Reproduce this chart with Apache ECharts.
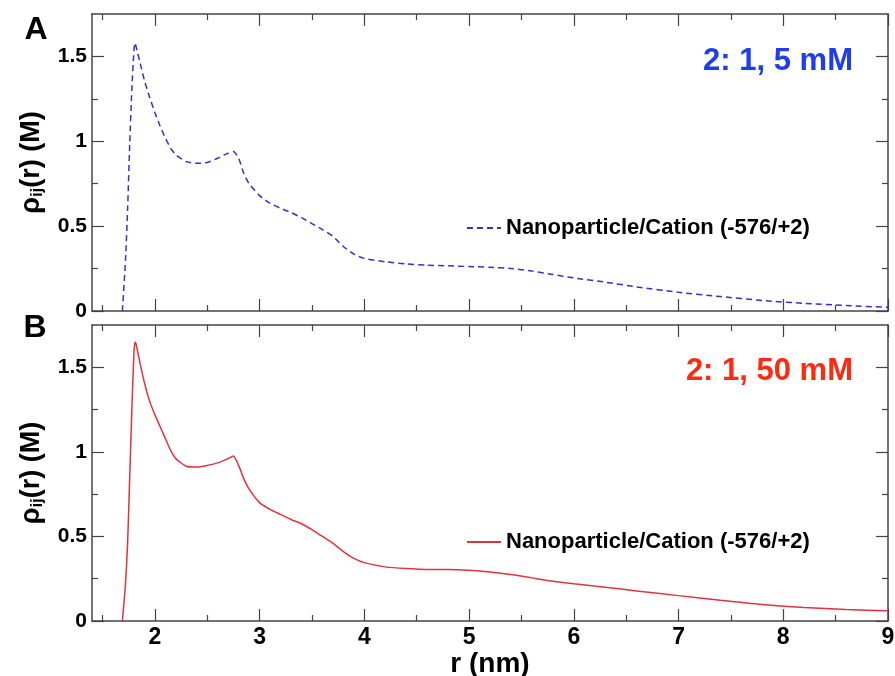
<!DOCTYPE html>
<html>
<head>
<meta charset="utf-8">
<title>Nanoparticle/Cation density</title>
<script src="https://cdn.jsdelivr.net/npm/echarts@6/dist/echarts.min.js"></script>
<style>
  html, body { margin: 0; padding: 0; background: #fff; }
  #chart { width: 895px; height: 676px; }
</style>
</head>
<body>
<div id="chart"></div>
<script>
// r (nm) sample points, shared by both panels
const rValues = [1.69, 1.72, 1.74, 1.76, 1.78, 1.80, 1.81, 1.82, 1.86, 1.90, 1.95, 2.0, 2.05, 2.1, 2.15, 2.2,
  2.3, 2.4, 2.5, 2.6, 2.7, 2.75, 2.8, 2.85, 2.9, 3.0, 3.1, 3.2, 3.3, 3.4, 3.5, 3.6, 3.7, 3.8, 3.9, 4.0,
  4.2, 4.4, 4.6, 4.8, 5.0, 5.2, 5.4, 5.6, 5.8, 6.0, 6.3, 6.6, 7.0, 7.4, 7.8, 8.2, 8.6, 9.0];
// panel A: 2:1, 5 mM
const density5mM = [0, 0.30, 0.60, 0.98, 1.30, 1.53, 1.58, 1.56, 1.46, 1.36, 1.26, 1.17, 1.09, 1.02, 0.96, 0.92,
  0.88, 0.87, 0.875, 0.90, 0.93, 0.94, 0.90, 0.81, 0.75, 0.68, 0.635, 0.605, 0.58, 0.55, 0.515, 0.48, 0.44, 0.38, 0.335, 0.31,
  0.29, 0.277, 0.27, 0.266, 0.262, 0.258, 0.25, 0.235, 0.215, 0.195, 0.17, 0.142, 0.11, 0.085, 0.062, 0.045, 0.032, 0.022];
// panel B: 2:1, 50 mM
const density50mM = [0, 0.22, 0.46, 0.85, 1.24, 1.58, 1.65, 1.64, 1.52, 1.41, 1.30, 1.22, 1.15, 1.08, 1.01, 0.96,
  0.915, 0.91, 0.92, 0.935, 0.96, 0.975, 0.92, 0.84, 0.78, 0.70, 0.66, 0.63, 0.60, 0.575, 0.54, 0.50, 0.46, 0.41, 0.37, 0.345,
  0.32, 0.31, 0.305, 0.305, 0.30, 0.29, 0.275, 0.255, 0.235, 0.22, 0.20, 0.178, 0.15, 0.122, 0.097, 0.08, 0.068, 0.06];

const xMajor = [2, 3, 4, 5, 6, 7, 8, 9];
const xMinor = [1.5, 2.5, 3.5, 4.5, 5.5, 6.5, 7.5, 8.5];
const yMajor = [0, 0.5, 1, 1.5];
const yMinor = [0.25, 0.75, 1.25];
const yLabels = ['0', '0.5', '1', '1.5'];

const legendLabel = 'Nanoparticle/Cation (-576/+2)';
const panelNotes = ['2: 1, 5 mM', '2: 1, 50 mM'];

const axisColor = '#444';
const font = '"Liberation Sans", Arial, sans-serif';
const narrow = '"Liberation Sans Narrow", "Liberation Sans", Arial, sans-serif';

const chart = echarts.init(document.getElementById('chart'));

function xAx(grid, pos, ticks, len, major, labels) {
  return {
    type: 'value', gridIndex: grid, position: pos, min: 1.4, max: 9,
    axisLine: { show: major, onZero: false, lineStyle: { color: axisColor, width: 1.5 } },
    axisTick: { show: true, inside: true, length: len, customValues: ticks, lineStyle: { color: axisColor, width: 1.2 } },
    axisLabel: labels ? {
      show: true, customValues: xMajor, margin: 5,
      fontSize: 23, fontWeight: 'bold', color: '#000', fontFamily: narrow
    } : { show: false },
    splitLine: { show: false }
  };
}

function yAx(grid, pos, ticks, len, major, labels) {
  return {
    type: 'value', gridIndex: grid, position: pos, min: 0, max: 1.75,
    axisLine: { show: major, onZero: false, lineStyle: { color: axisColor, width: 1.5 } },
    axisTick: { show: true, inside: true, length: len, customValues: ticks, lineStyle: { color: axisColor, width: 1.2 } },
    axisLabel: labels ? {
      show: true, customValues: yMajor, margin: 5,
      fontSize: 21, fontWeight: 'bold', color: '#000', fontFamily: font,
      formatter: (v) => yLabels[yMajor.indexOf(v)] || String(v)
    } : { show: false },
    splitLine: { show: false },
    name: labels ? '{a|ρ}{s|ij}{a|(r) (M)}' : '',
    nameLocation: 'middle', nameGap: 46, nameRotate: 90,
    nameTextStyle: {
      rich: {
        a: { fontSize: 27, fontWeight: 'bold', color: '#000', fontFamily: font },
        s: { fontSize: 17, fontWeight: 'bold', color: '#000', fontFamily: font, padding: [11, 0, 0, 0] }
      }
    }
  };
}

const xAxes = [];
const yAxes = [];
[0, 1].forEach((g) => {
  xAxes.push(xAx(g, 'bottom', xMajor, 12, true, g === 1));
  xAxes.push(xAx(g, 'bottom', xMinor, 6, false, false));
  xAxes.push(xAx(g, 'top', xMajor, 12, true, false));
  xAxes.push(xAx(g, 'top', xMinor, 6, false, false));
  yAxes.push(yAx(g, 'left', yMajor, 12, true, true));
  yAxes.push(yAx(g, 'left', yMinor, 6, false, false));
  yAxes.push(yAx(g, 'right', yMajor, 12, true, false));
  yAxes.push(yAx(g, 'right', yMinor, 6, false, false));
});
// x axis title on the bottom panel
xAxes[4].name = 'r (nm)';
xAxes[4].nameLocation = 'middle';
xAxes[4].nameGap = 21;
xAxes[4].nameTextStyle = { fontSize: 28, fontWeight: 'bold', color: '#000', fontFamily: narrow };

const legendText = { fontSize: 22, fontWeight: 'bold', color: '#000', fontFamily: font };

const option = {
  backgroundColor: '#fff',
  animation: false,
  grid: [
    { left: 92, right: 7, top: 14, height: 297, outerBoundsMode: 'none' },
    { left: 92, right: 7, top: 325, height: 296, outerBoundsMode: 'none' }
  ],
  xAxis: xAxes,
  yAxis: yAxes,
  legend: [
    {
      data: ['cation5'], left: 461, top: 212, itemWidth: 34, itemGap: 8,
      itemStyle: { opacity: 0 },
      formatter: () => legendLabel, textStyle: legendText
    },
    {
      data: ['cation50'], left: 461, top: 526, itemWidth: 34, itemGap: 8,
      itemStyle: { opacity: 0 },
      formatter: () => legendLabel, textStyle: legendText
    }
  ],
  graphic: [
    { type: 'text', x: 36, y: 30, style: { text: 'A', align: 'center', verticalAlign: 'middle', fontSize: 32, fontWeight: 'bold', fill: '#000', fontFamily: font } },
    { type: 'text', x: 35, y: 328, style: { text: 'B', align: 'center', verticalAlign: 'middle', fontSize: 32, fontWeight: 'bold', fill: '#000', fontFamily: font } },
    { type: 'text', x: 853, y: 61, style: { text: panelNotes[0], align: 'right', verticalAlign: 'middle', fontSize: 31, fontWeight: 'bold', fill: '#1e3cf0', fontFamily: font } },
    { type: 'text', x: 853, y: 371, style: { text: panelNotes[1], align: 'right', verticalAlign: 'middle', fontSize: 31, fontWeight: 'bold', fill: '#ff2a0f', fontFamily: font } }
  ],
  series: [
    {
      name: 'cation5', type: 'line', xAxisIndex: 0, yAxisIndex: 0,
      symbol: 'none', smooth: 0.2,
      data: rValues.map((r, i) => [r, density5mM[i]]),
      lineStyle: { color: '#2f33cc', width: 1.5, type: [6, 4] },
      itemStyle: { color: '#2f33cc' }
    },
    {
      name: 'cation50', type: 'line', xAxisIndex: 4, yAxisIndex: 4,
      symbol: 'none', smooth: 0.2,
      data: rValues.map((r, i) => [r, density50mM[i]]),
      lineStyle: { color: '#e0343c', width: 1.5 },
      itemStyle: { color: '#e0343c' }
    }
  ]
};

chart.setOption(option);
</script>
</body>
</html>
